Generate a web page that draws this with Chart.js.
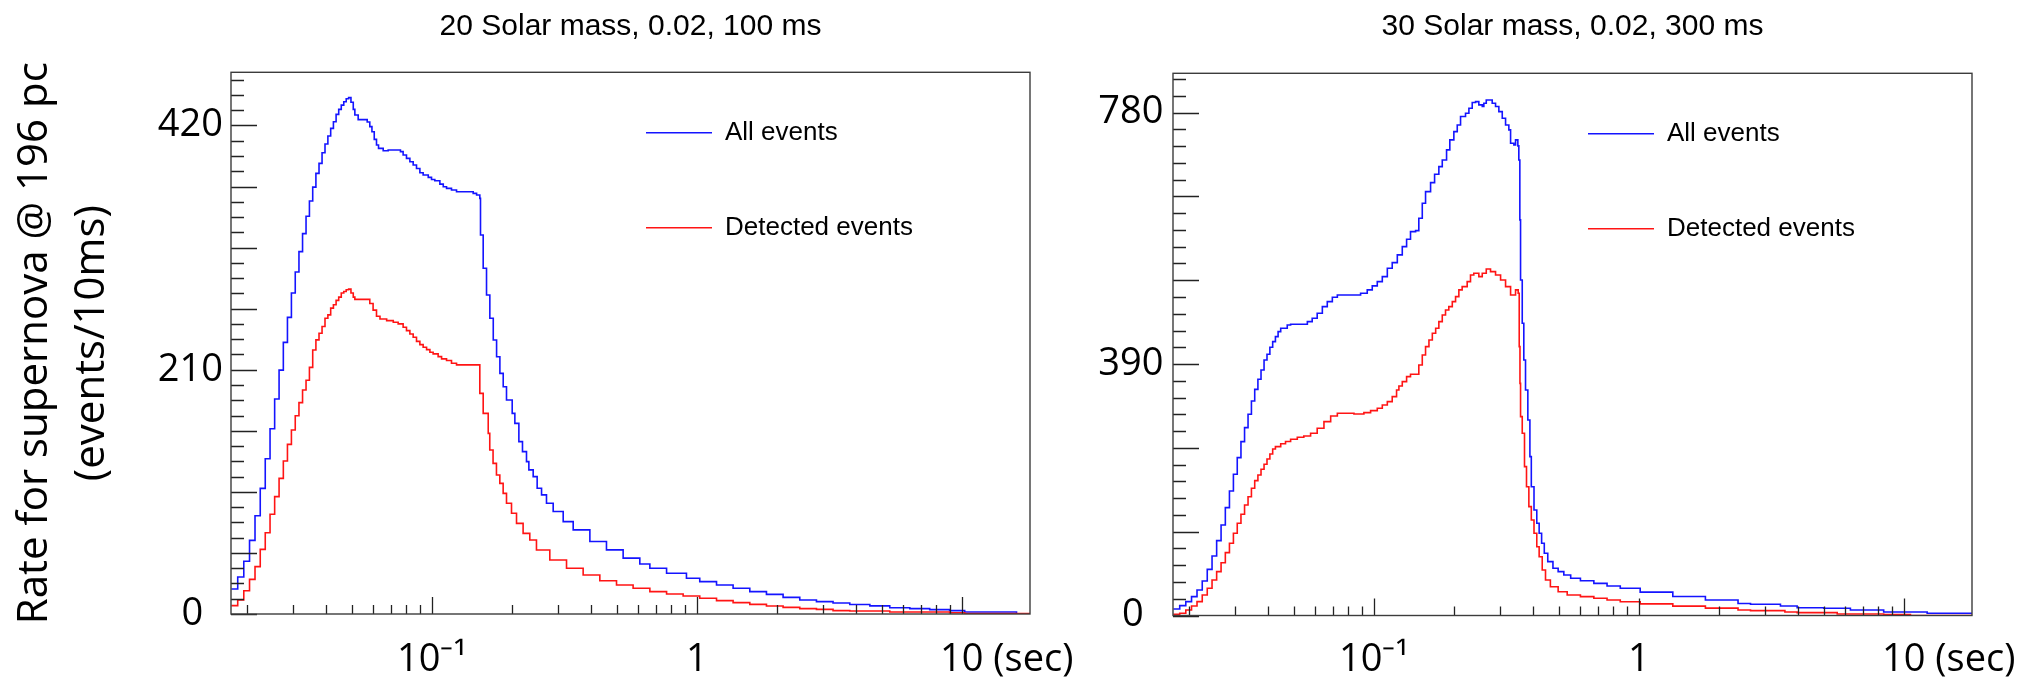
<!DOCTYPE html>
<html>
<head>
<meta charset="utf-8">
<script src="https://cdn.jsdelivr.net/npm/chart.js@4.4.1/dist/chart.umd.min.js"></script>
<style>
html,body{margin:0;padding:0;background:#fff;}
#wrap{position:relative;width:2039px;height:682px;overflow:hidden;background:#fff;}
canvas{position:absolute;top:0;}
#c1{left:0;}
#c2{left:1040px;}
</style>
</head>
<body>
<div id="wrap">
<canvas id="c1" width="1100" height="682"></canvas>
<canvas id="c2" width="999" height="682"></canvas>
</div>
<script>
// ---------------- data ----------------
const panelTitles = ['20 Solar mass, 0.02, 100 ms', '30 Solar mass, 0.02, 300 ms'];
const seriesNames = ['All events', 'Detected events'];
const yAxisTitle = ['Rate for supernova @ 196 pc', '(events/10ms)'];
const xRange = [0.01745, 18.1];
const xMajorTicks = [0.1, 1, 10];
const xMinorTicks = [0.02,0.03,0.04,0.05,0.06,0.07,0.08,0.09,0.2,0.3,0.4,0.5,0.6,0.7,0.8,0.9,2,3,4,5,6,7,8,9];
const xLabelValues = [0.1, 1, 10];
const xLabelTexts = ['10\u207B\u00B9', '1', '10'];
const xUnitText = '(sec)';
const leftYLabels = [0, 210, 420];
const rightYLabels = [0, 390, 780];

// left panel (20 Solar mass) : time where each step starts [s], rate held until the next time
const leftAllT = [0.0175,0.0185,0.0195,0.0205,0.0215,0.0225,0.0235,0.0245,0.0255,0.0265,0.0275,0.0285,0.0295,0.0305,0.0315,0.0325,0.0335,0.0345,0.0355,0.0365,0.0375,0.0385,0.0395,0.0405,0.0415,0.0425,0.0435,0.0445,0.0455,0.0465,0.0475,0.0485,0.0495,0.0505,
0.0512,0.0527,0.0570,0.0583,0.0594,0.0606,0.0618,0.0629,0.0655,0.0684,0.0761,0.0779,0.0802,0.0826,0.0850,0.0875,0.0901,0.0927,0.0969,0.0997,0.1026,0.1072,0.1104,0.1136,0.1186,0.1239,0.1432,0.1475,0.1517,
0.1526,0.1562,0.1608,0.1655,0.1705,0.1755,0.1806,0.1859,0.1913,0.2010,0.2057,0.2130,0.2198,0.2276,0.2323,0.2412,0.2497,0.2594,0.2708,0.2870,0.3131,0.3415,0.3948,0.4561,0.5272,0.6094,0.665,0.769,0.914,1.026,1.187,1.371,1.585,1.832,2.117,2.447,2.829,3.268,3.779,4.5,5.35,6.37,7.57,9.0,10.26,16.1];
const leftAllV = [21.5,31.8,45.3,63.3,84.5,108,133.5,159.3,184.8,209.7,233.5,255,276,294,311.5,327,342,355,367,378.8,387.4,396.6,404,411,417.5,423.2,429.5,433.8,437.5,440.4,443,443.9,440,433.8,
429,425,423,419,414.6,408,403.2,400.3,398.3,398.9,397.5,394.6,391.7,388.8,386,383,379.4,377.4,375.4,373.6,372.5,369.6,367.3,365.9,364.5,363,361.6,360.2,357.3,
325.8,297.2,274.2,254.2,235.5,221.2,206.9,195.4,184,172.5,163.9,148.2,139.6,131,123.9,118.1,108.1,102.4,95.2,88.1,79.4,72.3,62.3,55.1,48,43,39.3,35,30.7,27.8,24.9,22.1,19.2,16.9,14.3,12,10.6,9.5,8.2,7.0,5.4,4.6,3.8,2.9,1.7,0];
const leftDetT = [0.0175,0.0185,0.0195,0.0205,0.0215,0.0225,0.0235,0.0245,0.0255,0.0265,0.0275,0.0285,0.0295,0.0305,0.0315,0.0325,0.0335,0.0345,0.0355,0.0365,0.0375,0.0385,0.0395,0.0405,0.0415,0.0425,0.0435,0.0445,0.0455,0.0465,0.0475,0.0485,0.0495,0.0505,
0.0512,0.0583,0.0600,0.0618,0.0637,0.0675,0.0715,0.0746,0.0779,0.0802,0.0826,0.0850,0.0875,0.0901,0.0927,0.0955,0.0983,0.1011,0.1056,0.1088,0.1136,0.1186,0.1239,
0.1517,0.1562,0.1632,0.1654,0.1702,0.1753,0.1805,0.1858,0.1913,0.1998,0.2087,0.2210,0.2342,0.2482,0.2787,0.3223,0.3724,0.4305,0.4977,0.5749,0.665,0.769,0.888,1.026,1.187,1.371,1.585,1.832,2.117,2.447,2.829,3.268,3.779,5.35,9.0,10.26];
const leftDetV = [7.2,12,20,29.8,40.7,55.6,69.9,85.7,100.9,116.6,131.5,145.8,158.2,170.5,181.7,192.6,201,212,227,235.7,241.4,247.2,254.2,257.2,263,265.8,269.6,272.4,275.9,277.3,278.7,279.3,275.9,272.4,
270.5,266.9,261.2,256,253.6,252.2,250.8,249.4,246.5,243.6,240.7,237.9,234.4,231.6,229.3,227.3,225,223.6,221.3,219.3,217.9,215.6,214.2,
189.7,172.5,155.3,141,129.5,119.5,112.3,103.7,95.2,86.6,77.9,69.3,63.6,55,46.4,39.3,33.5,28.6,24.9,22.1,19.2,17.2,15.5,13.5,11.5,9.8,8.3,6.9,5.7,4.6,4,2.9,2.6,1.7,1.1,0.3];

// right panel (30 Solar mass)
const rightAllT = [0.0175,0.0185,0.0195,0.0205,0.0215,0.0225,0.0235,0.0245,0.0255,0.0265,0.0275,0.0285,0.0295,0.0305,0.0315,0.0325,0.0335,0.0345,0.0355,0.0365,0.0375,0.0385,0.0395,0.0405,0.0415,0.0425,0.0435,0.0445,
0.0471,0.0485,0.0561,0.0585,0.0611,0.0639,0.0667,0.0697,0.0728,0.0891,0.0944,0.0986,0.1030,0.1076,0.1124,0.1173,0.1226,0.1280,0.1329,0.1375,0.1437,0.1478,0.1523,0.1567,0.1637,0.1695,0.1759,0.1812,0.1881,0.1935,0.2004,0.2064,0.2124,0.2218,0.2284,0.2351,0.2420,0.2490,0.2565,0.2601,0.2656,0.2797,0.2879,0.2963,0.3052,0.3141,0.3232,0.3281,0.3376,0.3426,0.3495,0.3525,0.3556,0.3578,0.3631,0.3681,0.3736,0.3812,0.3881,0.3929,0.4022,0.4120,0.4206,0.4297,0.4398,0.4533,0.4742,0.4961,0.5212,0.5532,0.6021,0.6766,0.7589,0.8512,1.012,1.344,1.784,2.369,2.64,3.425,3.96,4.99,6.29,8.4,12.26];
const rightAllV = [10.1,15.3,21.5,29.2,39.6,53.5,71.6,92.3,116.1,140.4,167.3,193.1,219,244.9,269.7,291.4,312.1,332.8,350.8,366.4,380.9,396.4,405.2,416,424.8,432.6,440.3,445.5,
450.7,451.7,455.8,461,468.8,479.1,486.8,493.6,497.2,499.8,505,511.2,517.9,525.6,538.6,547.4,559.3,572.2,583.6,595.5,597,616.2,639.4,657.5,671.5,684.4,696.3,706.6,722.2,737.7,750.6,760.9,773.9,779.1,786.8,795.6,797.1,792,789.4,794.6,799.7,794.6,789.4,781.6,771.3,760.9,753.2,732.5,729.9,737.7,728.4,706.6,613.6,520.5,453.2,396.4,349.8,303.3,246.4,199.8,163.7,143,127.5,112,96.5,83.5,73.2,68,62.8,57.7,54,49.9,45.8,42.2,36.2,29.4,24.1,18.6,17.5,14.7,12.1,11.2,8.5,5.4,3.4];
const rightDetT = [0.0175,0.0185,0.0195,0.0205,0.0215,0.0225,0.0235,0.0245,0.0255,0.0265,0.0275,0.0285,0.0295,0.0305,0.0315,0.0325,0.0335,0.0345,0.0355,0.0365,0.0375,0.0385,0.0395,0.0405,0.0415,0.0425,
0.0445,0.0464,0.0485,0.0514,0.0544,0.0577,0.0611,0.0648,0.0687,0.0728,0.0841,0.0917,0.0972,0.1030,0.1076,0.1124,0.1173,0.1218,0.1243,0.1280,0.1329,0.1375,0.1478,0.1523,0.1567,0.1614,0.1662,0.1711,0.1759,0.1812,0.1864,0.1918,0.1977,0.2034,0.2093,0.2154,0.2250,0.2316,0.2383,0.2490,0.2565,0.2656,0.2756,0.2879,0.3008,0.3141,0.3281,0.3426,0.3505,0.3537,0.3560,0.3578,0.3631,0.3703,0.3768,0.3846,0.3929,0.4022,0.4120,0.4206,0.4320,0.4445,0.4637,0.4961,0.5367,0.6021,0.6766,0.7589,0.8512,1.012,1.344,1.784,2.369,2.64,3.56,3.96,5.61,8.4,10.6];
const rightDetV = [2,3.4,8.5,14.7,21.5,31.8,42.2,55.1,68,81.9,97.5,112,127.5,143,157,171.4,184.3,197.3,209.2,218,226.9,234.5,242.8,250.5,258.3,262,
266.5,270,273.3,276.4,278.5,282.6,290.4,300.7,309.5,313.7,312.6,314.7,317.8,321.4,326.6,331.7,339.5,349.8,356,362.8,370.5,374.2,388.6,404.1,417,427.4,437.8,445.5,455.8,466.2,473.9,479.1,486.8,494.6,505,510.1,517.9,528.2,530.9,525.6,530.9,537.5,533.4,528.2,520.5,510.1,497.2,505,499.8,417,360,308.4,282.6,230.9,199.8,168.8,148.2,127.5,106.7,91.2,70.6,55.1,44.7,36.9,31.8,29.2,26.7,24,21.4,18,14.5,11.5,8.5,7.5,5.4,4.4,2.3,1.3,0];

// ---------------- helpers ----------------
const xTickValues = xMinorTicks.concat(xMajorTicks).sort((a, b) => a - b);
function steps(T, V) {
  const pts = T.map((t, i) => ({x: t, y: V[i]}));
  pts.push({x: xRange[1], y: V[V.length - 1]});
  return pts;
}
function near(a, b) { return Math.abs(a - b) < 1e-9 * Math.max(1, Math.abs(b)); }
function xLabel(v) {
  const i = xLabelValues.findIndex(l => near(v, l));
  return i >= 0 ? xLabelTexts[i] : '';
}
const TICK_FONT = {family: 'Open Sans', size: 38, lineHeight: 1.2};

const rootFrame = {
  id: 'rootFrame',
  afterDraw(chart, args, opts) {
    const {ctx, chartArea: ca} = chart;
    const xs = chart.scales.x, ys = chart.scales.y;
    ctx.save();
    ctx.strokeStyle = '#222';
    ctx.lineWidth = 1.3;
    ctx.beginPath();
    xs.ticks.forEach(t => {
      const px = Math.round(xs.getPixelForValue(t.value)) + 0.5;
      const len = xMajorTicks.some(m => near(m, t.value)) ? 17 : 9;
      ctx.moveTo(px, ca.bottom); ctx.lineTo(px, ca.bottom - len);
    });
    ys.ticks.forEach(t => {
      const py = Math.round(ys.getPixelForValue(t.value)) + 0.5;
      const k = t.value / opts.longStep;
      const len = Math.abs(k - Math.round(k)) < 1e-6 ? 26 : 13;
      ctx.moveTo(ca.left, py); ctx.lineTo(ca.left + len, py);
    });
    ctx.stroke();
    ctx.strokeStyle = '#3c3c3c';
    ctx.lineWidth = 1.4;
    ctx.strokeRect(ca.left, ca.top, ca.right - ca.left, ca.bottom - ca.top);
    // unit after the last decade label
    ctx.font = TICK_FONT.size + 'px "' + TICK_FONT.family + '"';
    ctx.fillStyle = '#000';
    ctx.textBaseline = 'middle';
    ctx.textAlign = 'left';
    const px10 = xs.getPixelForValue(xLabelValues[xLabelValues.length - 1]);
    const w10 = ctx.measureText(xLabelTexts[xLabelTexts.length - 1]).width;
    const ly = xs.top + xs.options.ticks.padding + TICK_FONT.size * TICK_FONT.lineHeight / 2;
    ctx.fillText(' ' + xUnitText, px10 + w10 / 2, ly);
    ctx.restore();
  }
};

const legendPlace = {
  id: 'legendPlace',
  afterLayout(chart, args, opts) {
    const lg = chart.legend;
    if (!lg) return;
    const ca = chart.chartArea;
    const pad = lg.options.labels.padding;
    lg.left = ca.left + opts.dx - pad;
    lg.top = ca.top + opts.dy - pad;
    lg.right = ca.right;
    lg.bottom = ca.bottom;
    lg.width = lg.right - lg.left;
    lg.height = lg.bottom - lg.top;
  }
};

function buildChart(canvas, p) {
  const yTicks = [];
  for (let k = 0; k * p.yStep <= p.yMax + 1e-9; k++) yTicks.push(k * p.yStep);
  return new Chart(canvas, {
    type: 'line',
    data: {
      datasets: [
        {label: seriesNames[0], data: steps(p.allT, p.allV), borderColor: '#1414ff', pointBorderColor: '#1414ff',
         borderWidth: 1.6, pointBorderWidth: 1.6, pointRadius: 0, pointHoverRadius: 0, stepped: 'before', fill: false, order: 2},
        {label: seriesNames[1], data: steps(p.detT, p.detV), borderColor: '#ff1414', pointBorderColor: '#ff1414',
         borderWidth: 1.6, pointBorderWidth: 1.6, pointRadius: 0, pointHoverRadius: 0, stepped: 'before', fill: false, order: 1}
      ]
    },
    options: {
      responsive: false,
      animation: false,
      devicePixelRatio: 1,
      events: [],
      layout: {padding: {left: 0, right: p.padRight, top: 0, bottom: 0}},
      scales: {
        x: {
          type: 'logarithmic', min: xRange[0], max: xRange[1], bounds: 'data',
          afterBuildTicks: s => { s.ticks = xTickValues.map(v => ({value: v})); },
          afterFit: s => { s.height = p.xAxisH; },
          grid: {display: false, drawTicks: false},
          border: {display: false},
          ticks: {autoSkip: false, maxRotation: 0, minRotation: 0, padding: p.xPad, font: TICK_FONT, color: '#000',
                  callback: v => xLabel(v)}
        },
        y: {
          type: 'linear', min: 0, max: p.yMax, bounds: 'data',
          afterBuildTicks: s => { s.ticks = yTicks.map(v => ({value: v})); },
          afterFit: s => { s.width = p.yAxisW; },
          grid: {display: false, drawTicks: false},
          border: {display: false},
          ticks: {autoSkip: false, padding: p.yPad, font: TICK_FONT, color: '#000',
                  callback: v => p.yLabels.some(l => near(v, l)) ? (v === 0 ? '0  ' : String(Math.round(v))) : ''},
          title: p.yTitle ? {display: true, text: p.yTitle, color: '#000',
                  font: {family: 'Open Sans', size: 42, lineHeight: 1.357}, padding: {top: 7, bottom: 0}} : {display: false}
        }
      },
      plugins: {
        title: {display: true, text: p.title, fullSize: false, color: '#000',
                font: {family: 'Liberation Sans', size: 30, weight: 'normal', lineHeight: 1.2},
                padding: {top: 9, bottom: p.titleBottom}},
        legend: {display: true, position: 'chartArea', align: 'start',
                 labels: {usePointStyle: true, pointStyle: 'line', pointStyleWidth: 66, padding: 69, color: '#000',
                          font: {family: 'Liberation Sans', size: 26},
                          sort: (a, b) => a.datasetIndex - b.datasetIndex}},
        tooltip: {enabled: false},
        rootFrame: {longStep: p.yLong},
        legendPlace: {dx: 415, dy: 47.5}
      }
    },
    plugins: [rootFrame, legendPlace]
  });
}

buildChart(document.getElementById('c1'), {
  title: panelTitles[0], allT: leftAllT, allV: leftAllV, detT: leftDetT, detV: leftDetV,
  yMax: 465.7, yStep: 13.125, yLong: 52.5, yLabels: leftYLabels, yTitle: yAxisTitle,
  padRight: 70, xAxisH: 68, xPad: 23, yAxisW: 231, yPad: 8, titleBottom: 27.3
});
buildChart(document.getElementById('c2'), {
  title: panelTitles[1], allT: rightAllT, allV: rightAllV, detT: rightDetT, detV: rightDetV,
  yMax: 841, yStep: 26, yLong: 130, yLabels: rightYLabels, yTitle: null,
  padRight: 67, xAxisH: 66.5, xPad: 21.5, yAxisW: 133, yPad: 9.5, titleBottom: 28.3
});
</script>
</body>
</html>
